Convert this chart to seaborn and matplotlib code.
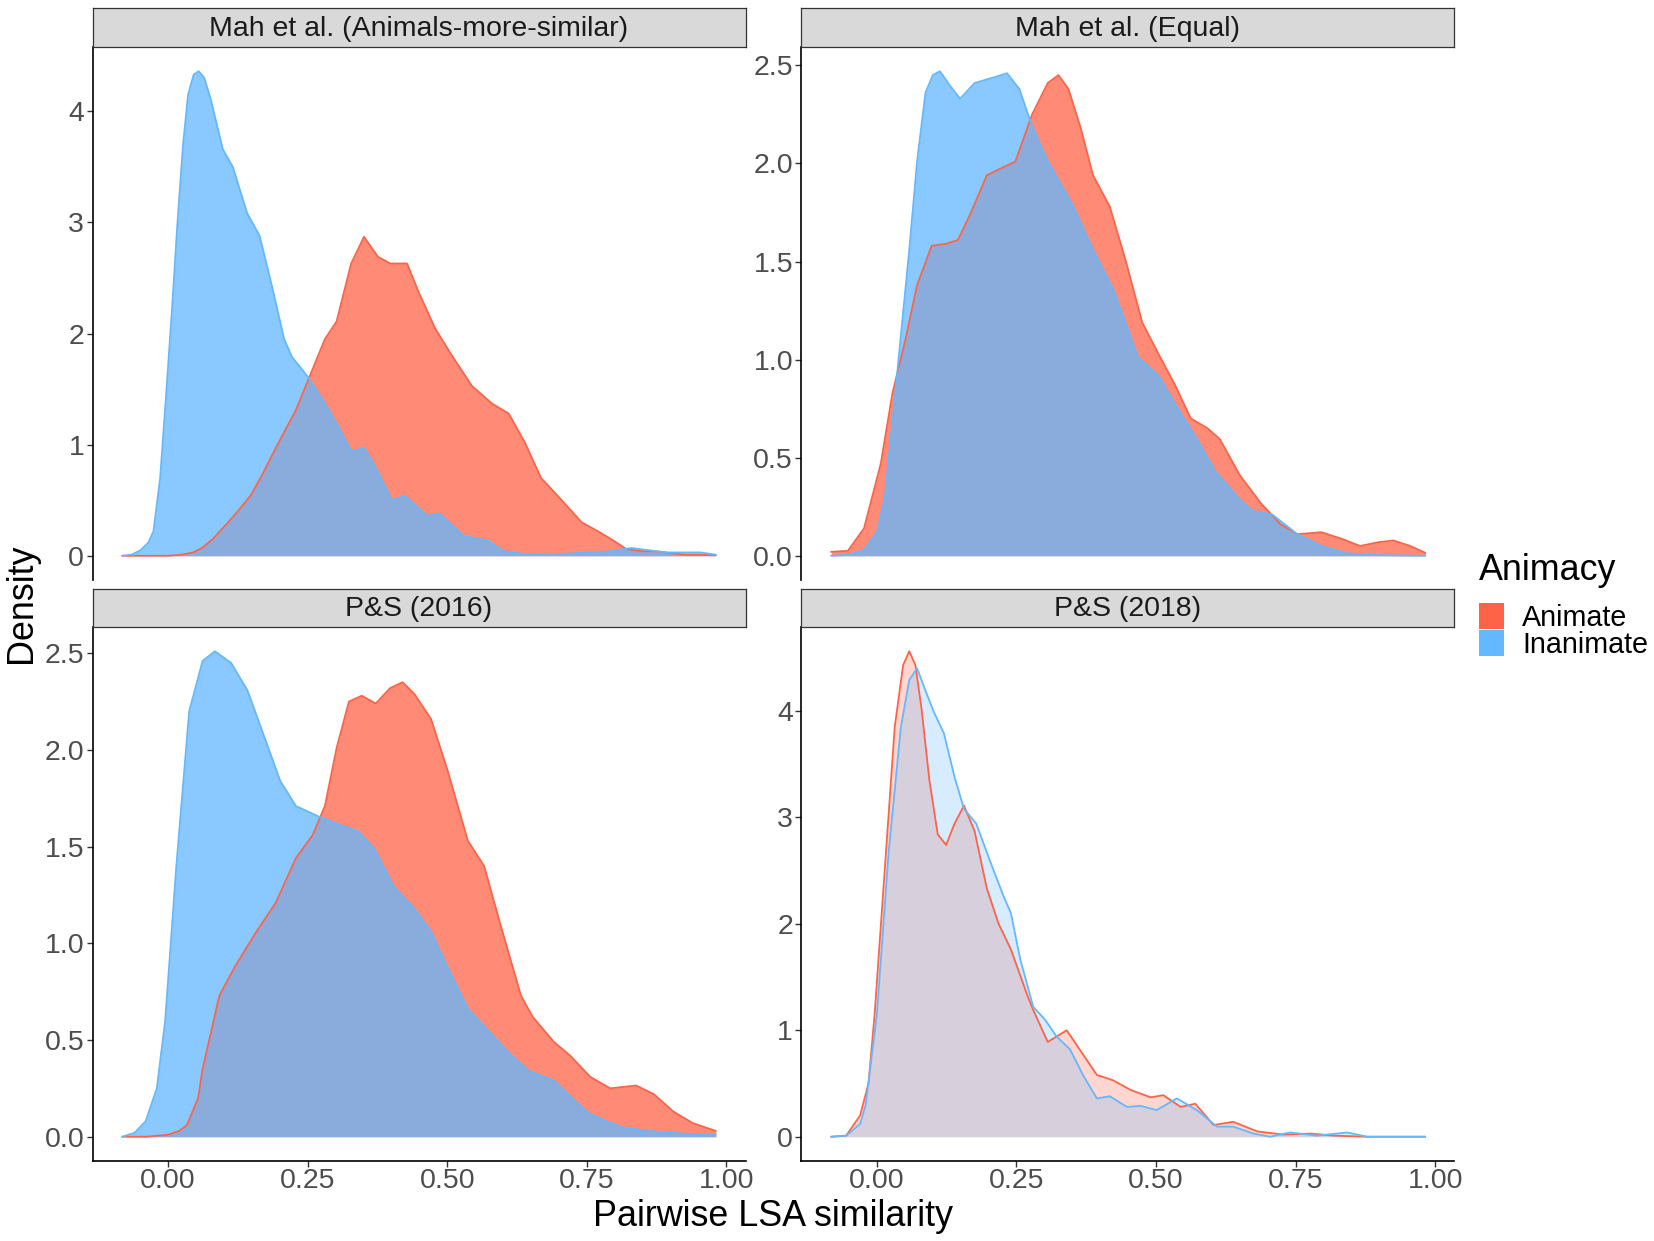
import numpy as np
import pandas as pd
import matplotlib
matplotlib.use("Agg")
import matplotlib.pyplot as plt
import seaborn as sns
from matplotlib.patches import Rectangle

# ---------------- data ----------------
panel_titles = ["Mah et al. (Animals-more-similar)", "Mah et al. (Equal)",
                "P&S (2016)", "P&S (2018)"]
groups = ["Animate", "Inanimate"]
x_ticks = [0.00, 0.25, 0.50, 0.75, 1.00]
x_tick_labels = ["0.00", "0.25", "0.50", "0.75", "1.00"]

# Panel 1: Mah et al. (Animals-more-similar)
mah_ams_animate_x = [-0.082, -0.060, -0.030, 0.000, 0.025, 0.045, 0.061, 0.080, 0.104, 0.125,
                     0.149, 0.171, 0.193, 0.229, 0.255, 0.281, 0.302, 0.328, 0.351, 0.376,
                     0.398, 0.428, 0.449, 0.478, 0.506, 0.544, 0.580, 0.610, 0.639, 0.668,
                     0.705, 0.741, 0.770, 0.790, 0.809, 0.821, 0.850, 0.875, 0.922, 0.981]
mah_ams_animate_d = [0.0, 0.0, 0.0, 0.0, 0.01, 0.03, 0.07, 0.15, 0.28, 0.40,
                     0.55, 0.75, 0.97, 1.31, 1.63, 1.95, 2.11, 2.63, 2.87, 2.69,
                     2.63, 2.63, 2.37, 2.05, 1.82, 1.53, 1.37, 1.28, 1.02, 0.70,
                     0.50, 0.30, 0.22, 0.16, 0.10, 0.06, 0.04, 0.04, 0.01, 0.005]
mah_ams_inanimate_x = [-0.082, -0.065, -0.049, -0.035, -0.026, -0.014, -0.004, 0.007, 0.017, 0.027,
                       0.036, 0.046, 0.055, 0.065, 0.077, 0.098, 0.116, 0.142, 0.164, 0.186,
                       0.208, 0.222, 0.252, 0.281, 0.303, 0.328, 0.351, 0.368, 0.401, 0.424,
                       0.464, 0.486, 0.529, 0.573, 0.602, 0.647, 0.718, 0.790, 0.830, 0.860,
                       0.893, 0.953, 0.981]
mah_ams_inanimate_d = [0.0, 0.01, 0.05, 0.12, 0.22, 0.70, 1.40, 2.20, 3.00, 3.70,
                       4.15, 4.33, 4.36, 4.30, 4.10, 3.66, 3.50, 3.08, 2.88, 2.43,
                       1.95, 1.79, 1.60, 1.37, 1.18, 0.94, 0.97, 0.83, 0.50, 0.54,
                       0.36, 0.38, 0.18, 0.135, 0.04, 0.01, 0.02, 0.04, 0.07, 0.05,
                       0.03, 0.03, 0.01]

# Panel 2: Mah et al. (Equal)
mah_eq_animate_x = [-0.082, -0.052, -0.023, 0.007, 0.028, 0.051, 0.072, 0.098, 0.124, 0.145,
                    0.167, 0.197, 0.226, 0.248, 0.278, 0.306, 0.325, 0.343, 0.365, 0.387,
                    0.417, 0.446, 0.475, 0.504, 0.534, 0.562, 0.592, 0.614, 0.650, 0.687,
                    0.723, 0.753, 0.796, 0.834, 0.865, 0.900, 0.925, 0.955, 0.982]
mah_eq_animate_d = [0.02, 0.025, 0.14, 0.47, 0.83, 1.10, 1.38, 1.58, 1.59, 1.61,
                    1.74, 1.94, 1.98, 2.01, 2.25, 2.41, 2.45, 2.38, 2.18, 1.94,
                    1.78, 1.50, 1.19, 1.03, 0.87, 0.70, 0.65, 0.595, 0.41, 0.27,
                    0.16, 0.11, 0.12, 0.085, 0.05, 0.07, 0.078, 0.05, 0.015]
mah_eq_inanimate_x = [-0.082, -0.050, -0.023, 0.000, 0.014, 0.036, 0.058, 0.072, 0.087, 0.100,
                      0.113, 0.130, 0.149, 0.175, 0.211, 0.233, 0.255, 0.278, 0.306, 0.350,
                      0.387, 0.423, 0.468, 0.504, 0.541, 0.570, 0.606, 0.650, 0.672, 0.708,
                      0.753, 0.796, 0.840, 0.900, 0.982]
mah_eq_inanimate_d = [0.0, 0.005, 0.03, 0.12, 0.29, 0.92, 1.56, 2.01, 2.36, 2.45,
                      2.47, 2.40, 2.33, 2.41, 2.44, 2.46, 2.38, 2.19, 2.01, 1.79,
                      1.56, 1.36, 1.01, 0.92, 0.74, 0.61, 0.43, 0.285, 0.23, 0.21,
                      0.11, 0.05, 0.013, 0.003, 0.0]

# Panel 3: P&S (2016)
ps16_animate_x = [-0.082, -0.040, 0.000, 0.020, 0.034, 0.054, 0.062, 0.092, 0.120, 0.156,
                  0.193, 0.229, 0.259, 0.281, 0.302, 0.324, 0.347, 0.372, 0.398, 0.420,
                  0.441, 0.471, 0.500, 0.537, 0.566, 0.595, 0.632, 0.653, 0.691, 0.720,
                  0.756, 0.792, 0.838, 0.870, 0.905, 0.940, 0.981]
ps16_animate_d = [0.0, 0.0, 0.01, 0.03, 0.06, 0.20, 0.35, 0.73, 0.88, 1.05,
                  1.21, 1.44, 1.56, 1.71, 2.01, 2.25, 2.28, 2.24, 2.32, 2.35,
                  2.29, 2.16, 1.90, 1.53, 1.40, 1.10, 0.73, 0.62, 0.49, 0.42,
                  0.31, 0.25, 0.265, 0.22, 0.13, 0.07, 0.03]
ps16_inanimate_x = [-0.082, -0.060, -0.040, -0.020, -0.005, 0.015, 0.038, 0.062, 0.084, 0.113,
                    0.142, 0.171, 0.201, 0.229, 0.274, 0.310, 0.340, 0.369, 0.405, 0.441,
                    0.471, 0.500, 0.537, 0.573, 0.610, 0.646, 0.691, 0.727, 0.754, 0.785,
                    0.818, 0.880, 0.930, 0.981]
ps16_inanimate_d = [0.0, 0.02, 0.08, 0.25, 0.60, 1.40, 2.20, 2.46, 2.51, 2.45,
                    2.31, 2.08, 1.84, 1.71, 1.65, 1.61, 1.58, 1.49, 1.29, 1.18,
                    1.06, 0.88, 0.66, 0.55, 0.435, 0.34, 0.29, 0.19, 0.12, 0.08,
                    0.045, 0.025, 0.015, 0.01]

# Panel 4: P&S (2018)
ps18_animate_x = [-0.082, -0.055, -0.030, -0.015, -0.004, 0.014, 0.032, 0.047, 0.058, 0.069,
                  0.080, 0.094, 0.109, 0.124, 0.139, 0.156, 0.175, 0.197, 0.218, 0.240,
                  0.270, 0.280, 0.306, 0.340, 0.363, 0.394, 0.423, 0.454, 0.490, 0.513,
                  0.544, 0.570, 0.603, 0.638, 0.681, 0.728, 0.776, 0.818, 0.878, 0.982]
ps18_animate_d = [0.0, 0.01, 0.20, 0.50, 1.15, 2.50, 3.85, 4.43, 4.56, 4.43,
                  4.02, 3.35, 2.84, 2.74, 2.94, 3.11, 2.87, 2.33, 2.00, 1.76,
                  1.32, 1.19, 0.89, 1.00, 0.82, 0.58, 0.53, 0.44, 0.37, 0.39,
                  0.28, 0.31, 0.11, 0.14, 0.05, 0.02, 0.03, 0.01, 0.0, 0.0]
ps18_inanimate_x = [-0.082, -0.055, -0.030, -0.020, 0.000, 0.021, 0.043, 0.058, 0.072, 0.087,
                    0.102, 0.120, 0.139, 0.156, 0.178, 0.204, 0.226, 0.240, 0.257, 0.280,
                    0.301, 0.322, 0.346, 0.370, 0.394, 0.417, 0.448, 0.472, 0.501, 0.537,
                    0.573, 0.609, 0.638, 0.674, 0.704, 0.740, 0.788, 0.842, 0.878, 0.982]
ps18_inanimate_d = [0.0, 0.01, 0.12, 0.30, 1.15, 2.67, 3.85, 4.29, 4.40, 4.19,
                    3.99, 3.79, 3.38, 3.08, 2.94, 2.57, 2.27, 2.10, 1.66, 1.22,
                    1.10, 0.94, 0.82, 0.57, 0.36, 0.38, 0.28, 0.29, 0.25, 0.36,
                    0.25, 0.095, 0.095, 0.03, 0.0, 0.04, 0.01, 0.04, 0.0, 0.0]

y_ticks = [[0, 1, 2, 3, 4], [0.0, 0.5, 1.0, 1.5, 2.0, 2.5],
           [0.0, 0.5, 1.0, 1.5, 2.0, 2.5], [0, 1, 2, 3, 4]]
y_tick_labels = [["0", "1", "2", "3", "4"],
                 ["0.0", "0.5", "1.0", "1.5", "2.0", "2.5"],
                 ["0.0", "0.5", "1.0", "1.5", "2.0", "2.5"],
                 ["0", "1", "2", "3", "4"]]

series = [
    {"Animate": (mah_ams_animate_x, mah_ams_animate_d), "Inanimate": (mah_ams_inanimate_x, mah_ams_inanimate_d)},
    {"Animate": (mah_eq_animate_x, mah_eq_animate_d), "Inanimate": (mah_eq_inanimate_x, mah_eq_inanimate_d)},
    {"Animate": (ps16_animate_x, ps16_animate_d), "Inanimate": (ps16_inanimate_x, ps16_inanimate_d)},
    {"Animate": (ps18_animate_x, ps18_animate_d), "Inanimate": (ps18_inanimate_x, ps18_inanimate_d)},
]
fill_alpha = [0.75, 0.75, 0.75, 0.25]

# ---------------- style ----------------
palette = {"Animate": "#FF6347", "Inanimate": "#63B8FF"}
sns.set_theme(style="ticks")
plt.rcParams['font.family'] = ['Liberation Sans', 'DejaVu Sans']

W, H = 1654, 1241
fig = plt.figure(figsize=(W / 100, H / 100), dpi=100)
fig.patch.set_facecolor("white")

def fx(px):
    return px / W

def fy(py):
    return 1 - py / H

col_left = [92.5, 801.4]
col_w = 653.0
row_top = [47.0, 627.0]
row_bot = [580.0, 1161.0]
strip_top = [8.0, 589.0]

x_lo, x_hi = -0.082, 0.981
x_pad = 0.05 * (x_hi - x_lo)

TICK_FS = 20.5
STRIP_FS = 20.5
TITLE_FS = 25.8
LEG_FS = 20.7

for i in range(4):
    r, c = divmod(i, 2)
    ax = fig.add_axes([fx(col_left[c]), fy(row_bot[r]), fx(col_w),
                       (row_bot[r] - row_top[r]) / H])
    ymax = 0
    for g in groups:
        xs, ds = series[i][g]
        ymax = max(ymax, max(ds))
        ax.fill_between(xs, ds, 0, color=palette[g], alpha=fill_alpha[i], lw=0, zorder=2)
        sns.lineplot(x=np.array(xs), y=np.array(ds), ax=ax, color=palette[g], lw=1.3,
                     sort=False, estimator=None, zorder=3)
    ax.set_xlim(x_lo - x_pad, x_hi + x_pad)
    ax.set_ylim(-0.05 * ymax, 1.05 * ymax)
    ax.set_xlabel("")
    ax.set_ylabel("")
    ax.set_facecolor("white")
    ax.grid(False)
    ax.set_yticks(y_ticks[i])
    ax.set_yticklabels(y_tick_labels[i])
    for s in ["top", "right"]:
        ax.spines[s].set_visible(False)
    for s in ["left", "bottom"]:
        ax.spines[s].set_color("black")
        ax.spines[s].set_linewidth(1.2)
    ax.tick_params(axis="y", length=4, width=1.0, color="#333333", pad=2,
                   labelsize=TICK_FS, labelcolor="#4D4D4D")
    if r == 0:
        ax.spines["bottom"].set_visible(False)
        ax.set_xticks([])
    else:
        ax.set_xticks(x_ticks)
        ax.set_xticklabels(x_tick_labels)
        ax.tick_params(axis="x", length=4, width=1.0, color="#333333", pad=1,
                       labelsize=TICK_FS, labelcolor="#4D4D4D")

    # facet strip
    sax = fig.add_axes([fx(col_left[c]), fy(row_top[r]), fx(col_w),
                        (row_top[r] - strip_top[r]) / H])
    sax.set_facecolor("#D9D9D9")
    sax.set_xticks([])
    sax.set_yticks([])
    for s in sax.spines.values():
        s.set_visible(True)
        s.set_color("#333333")
        s.set_linewidth(0.9)
    sax.text(0.5, 0.47, panel_titles[i], transform=sax.transAxes, ha="center",
             va="center", fontsize=STRIP_FS, color="#1A1A1A")

# axis titles
fig.text(fx(22), fy(573 / 0.948 if False else 603), "Density", rotation=90, ha="center",
         va="center", fontsize=TITLE_FS, color="black")
fig.text(fx(773.5), fy(1226), "Pairwise LSA similarity", ha="center", va="baseline",
         fontsize=TITLE_FS, color="black")

# legend
fig.text(fx(1479), fy(580), "Animacy", ha="left", va="baseline", fontsize=TITLE_FS, color="black")
key_tops = [603.3, 629.5]
label_base = [626.0, 652.7]
for g, kt, lb in zip(groups, key_tops, label_base):
    fig.patches.append(Rectangle((fx(1479), fy(kt + 26.0)), fx(24.5), 26.0 / H,
                                 transform=fig.transFigure, facecolor=palette[g],
                                 edgecolor="none"))
    fig.text(fx(1522.3), fy(lb), g, ha="left", va="baseline", fontsize=LEG_FS, color="black")

fig.savefig("out.png", dpi=100, facecolor="white")
